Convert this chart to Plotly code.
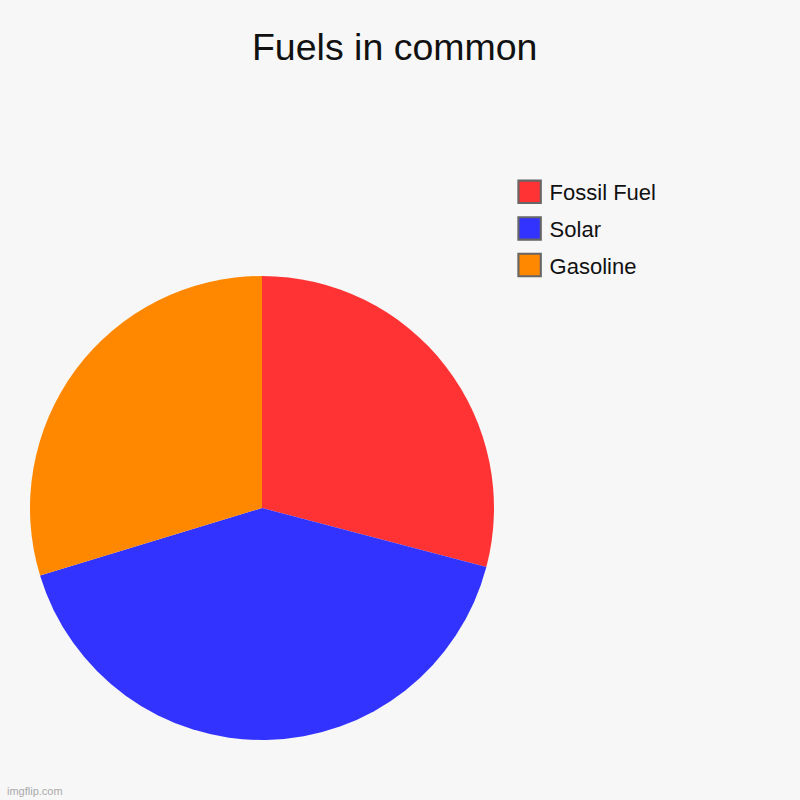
import plotly.graph_objects as go

labels = ["Fossil Fuel", "Solar", "Gasoline"]
values = [29.1, 41.2, 29.7]
colors = ["#FF3333", "#3333FF", "#FF8800"]
title = "Fuels in common"

fig = go.Figure()
fig.add_trace(go.Pie(
    labels=labels, values=values, sort=False, direction="clockwise", rotation=0,
    marker=dict(colors=colors, line=dict(width=0)),
    textinfo="none", hoverinfo="label+value", showlegend=False,
    domain=dict(x=[30/800, 494/800], y=[60/800, 524/800]),
))
for i, (lab, col) in enumerate(zip(labels, colors)):
    fig.add_trace(go.Scatter(
        x=[None], y=[None], mode="markers", name=lab, legendgroup=f"g{i}",
        marker=dict(symbol="square", size=16, color=col, line=dict(color="#666666", width=1.5)),
    ))

fig.update_layout(
    width=800, height=800,
    paper_bgcolor="#F7F7F7", plot_bgcolor="#F7F7F7",
    margin=dict(l=0, r=0, t=0, b=0),
    font=dict(family="Liberation Sans, Arial, sans-serif", color="#000000"),
    title=dict(text=title, x=0.4934, xanchor="center", y=1-47/800, yanchor="middle",
               font=dict(size=37.5, color="#111111")),
    xaxis=dict(visible=False, domain=[0.99, 1]),
    yaxis=dict(visible=False, domain=[0.99, 1]),
    legend=dict(x=0.637, y=1-171/800, xanchor="left", yanchor="top",
                font=dict(size=22, color="#111111"), bgcolor="rgba(0,0,0,0)",
                itemsizing="trace", tracegroupgap=5),
    annotations=[dict(text="imgflip.com", x=5/800, y=1-791/800, xref="paper", yref="paper",
                      xanchor="left", yanchor="middle", showarrow=False,
                      font=dict(size=11, color="#AAAAAA"))],
)
post = (
    "document.body.style.margin='0';document.body.style.background='#F7F7F7';"
    "document.querySelectorAll('.legendpoints path.scatterpts').forEach(function(p){"
    "var t=p.getAttribute('transform')||'';p.setAttribute('transform',t+' scale(1.4)');});"
)
fig.write_html("out.html", post_script=post, config={"displayModeBar": False})
